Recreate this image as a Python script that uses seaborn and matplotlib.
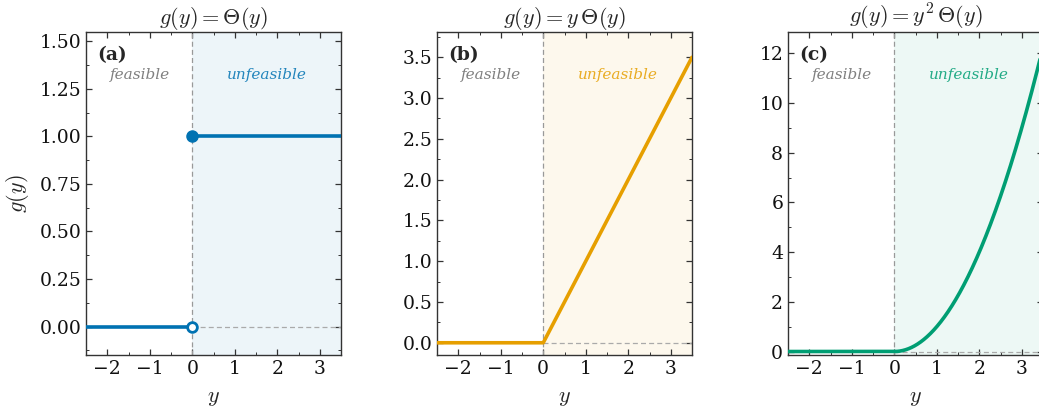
import numpy as np
import pandas as pd
import matplotlib
matplotlib.use("Agg")
import matplotlib.pyplot as plt
from matplotlib.ticker import AutoMinorLocator, MultipleLocator
import seaborn as sns

# Panel definitions
panel_tags = ["(a)", "(b)", "(c)"]
titles = [r"$g(y) = \Theta(y)$", r"$g(y) = y\,\Theta(y)$", r"$g(y) = y^2\,\Theta(y)$"]
powers = [0, 1, 2]
colors = ["#0072B2", "#E69F00", "#009E73"]
ylims = [(-0.15, 1.55), (-0.15, 3.81), (-0.14, 12.86)]
ymajor = [0.25, 0.5, 2.0]
ytick_fmt = ["{:.2f}", "{:.1f}", "{:.0f}"]
x_range = (-2.5, 3.5)

sns.set_theme(style="ticks", rc={
    "xtick.direction": "in", "ytick.direction": "in",
    "xtick.top": True, "ytick.right": True,
    "xtick.minor.visible": True, "ytick.minor.visible": True,
    "xtick.major.size": 4.5, "ytick.major.size": 4.5,
    "xtick.minor.size": 2.3, "ytick.minor.size": 2.3,
    "xtick.major.width": 0.9, "ytick.major.width": 0.9,
    "xtick.minor.width": 0.7, "ytick.minor.width": 0.7,
    "axes.edgecolor": "#333333", "axes.linewidth": 1.0,
    "xtick.color": "#333333", "ytick.color": "#333333",
    "xtick.labelcolor": "#111111", "ytick.labelcolor": "#111111",
})
plt.rcParams["font.family"] = ["DejaVu Serif"]
plt.rcParams["mathtext.fontset"] = "cm"
plt.rcParams["axes.unicode_minus"] = True

fig = plt.figure(figsize=(10.39, 4.11), dpi=100)
lefts = [86 / 1039, 437 / 1039, 788 / 1039]
w = 255 / 1039
bottom = 56 / 411
h = 323 / 411

y = np.linspace(x_range[0], x_range[1], 1201)

for i in range(3):
    ax = fig.add_axes([lefts[i], bottom, w, h])
    c = colors[i]
    p = powers[i]

    # shaded unfeasible region and guide lines
    ax.axvspan(0, x_range[1], color=c, alpha=0.07, lw=0, zorder=0)
    ax.axvline(0, color="#999999", ls="--", lw=0.9, dashes=(4, 2.5), zorder=1)
    ax.plot([0, x_range[1]], [0, 0], color="#aaaaaa", ls="--", lw=0.9,
            dashes=(4, 2.5), zorder=1)

    if p == 0:
        left = pd.DataFrame({"y": [x_range[0], 0.0], "g": [0.0, 0.0]})
        right = pd.DataFrame({"y": [0.0, x_range[1]], "g": [1.0, 1.0]})
        sns.lineplot(data=left, x="y", y="g", color=c, lw=2.6, ax=ax, zorder=3)
        sns.lineplot(data=right, x="y", y="g", color=c, lw=2.6, ax=ax, zorder=3)
        ax.plot([0], [1], marker="o", ms=8, color=c, zorder=4)
        ax.plot([0], [0], marker="o", ms=7, mfc="white", mec=c, mew=2.0, zorder=4)
    else:
        g = np.where(y > 0, y ** p, 0.0)
        df = pd.DataFrame({"y": y, "g": g})
        sns.lineplot(data=df, x="y", y="g", color=c, lw=2.6, ax=ax, zorder=3)

    ax.set_xlim(*x_range)
    ax.set_ylim(*ylims[i])
    ax.xaxis.set_major_locator(MultipleLocator(1))
    ax.yaxis.set_major_locator(MultipleLocator(ymajor[i]))
    ax.xaxis.set_minor_locator(AutoMinorLocator(2))
    ax.yaxis.set_minor_locator(AutoMinorLocator(2))
    fmt = ytick_fmt[i]
    ax.yaxis.set_major_formatter(plt.FuncFormatter(lambda v, pos, f=fmt: f.format(v).replace("-", "\u2212")))
    ax.tick_params(labelsize=13.5)

    ax.set_title(titles[i], fontsize=16, pad=4)
    ax.set_xlabel(r"$y$", fontsize=16, labelpad=6)
    ax.set_ylabel(r"$g(y)$" if i == 0 else "", fontsize=16, labelpad=6)

    ax.text(0.045, 0.955, panel_tags[i], transform=ax.transAxes, fontsize=13.5,
            fontweight="bold", va="top", ha="left")
    ax.text(0.21, 0.867, "feasible", transform=ax.transAxes, fontsize=11,
            style="italic", color="#808080", ha="center", va="center")
    ax.text(0.71, 0.867, "unfeasible", transform=ax.transAxes, fontsize=11,
            style="italic", color=c, alpha=0.85, ha="center", va="center")

fig.savefig("out.png", dpi=100)
